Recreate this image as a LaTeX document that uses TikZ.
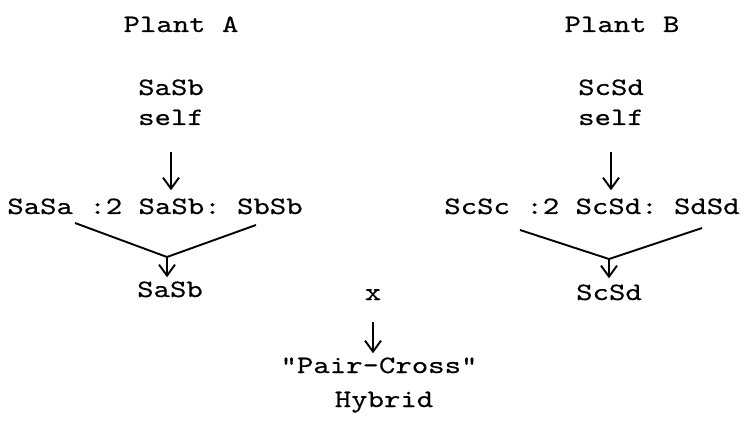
\documentclass[tikz,border=0pt]{standalone}
\usepackage{fontspec}
\setmonofont[FakeStretch=1.25,FakeBold=0.4]{lmmono10-regular.otf}
\usetikzlibrary{arrows.meta}

\begin{document}
\begin{tikzpicture}[
  x=1pt, y=-1pt,
  lbl/.style={font=\ttfamily\fontsize{25}{30}\selectfont, inner sep=0pt, anchor=base},
  arrow/.style={-{Straight Barb[length=11pt,width=16pt]}, line width=1.9pt},
  link/.style={line width=1.9pt}
]
\useasboundingbox (0,0) rectangle (744,422);

% left parent
\node[lbl] (plantA) at (181,32) {Plant A};
\node[lbl] (genoA) at (171,95) {SaSb};
\node[lbl] (selfA) at (171,125) {self};
\node[lbl] (rowA) at (155,214) {SaSa :2 SaSb: SbSb};
\node[lbl] (childA) at (170,297) {SaSb};

% right parent
\node[lbl] (plantB) at (622,32) {Plant B};
\node[lbl] (genoB) at (611,95) {ScSd};
\node[lbl] (selfB) at (611,125) {self};
\node[lbl] (rowB) at (592,214) {ScSc :2 ScSd: SdSd};
\node[lbl] (childB) at (609,300) {ScSd};

% cross
\node[lbl] (cross) at (373,300) {x};
\node[lbl] (pair) at (379,373) {"Pair-Cross"};
\node[lbl] (hybrid) at (384,407) {Hybrid};

\coordinate (lA) at (75,223);
\coordinate (rA) at (256,225);
\coordinate (jA) at (167,257);
\coordinate (lB) at (520,230);
\coordinate (rB) at (702,228);
\coordinate (jB) at (609,259);

\draw[arrow, shorten <=27pt, shorten >=8pt] (selfA.south) -- (selfA.south |- rowA.north);
\draw[arrow, shorten <=27pt, shorten >=8pt] (selfB.south) -- (selfB.south |- rowB.north);
\draw[link] (lA) -- (jA) -- (rA);
\draw[link] (lB) -- (jB) -- (rB);
\draw[arrow, shorten >=4pt] (jA) -- (jA |- childA.north);
\draw[arrow, shorten >=6pt] (jB) -- (jB |- childB.north);
\draw[arrow, shorten <=22pt, shorten >=4pt] (cross.south) -- (cross.south |- pair.north);
\end{tikzpicture}
\end{document}
